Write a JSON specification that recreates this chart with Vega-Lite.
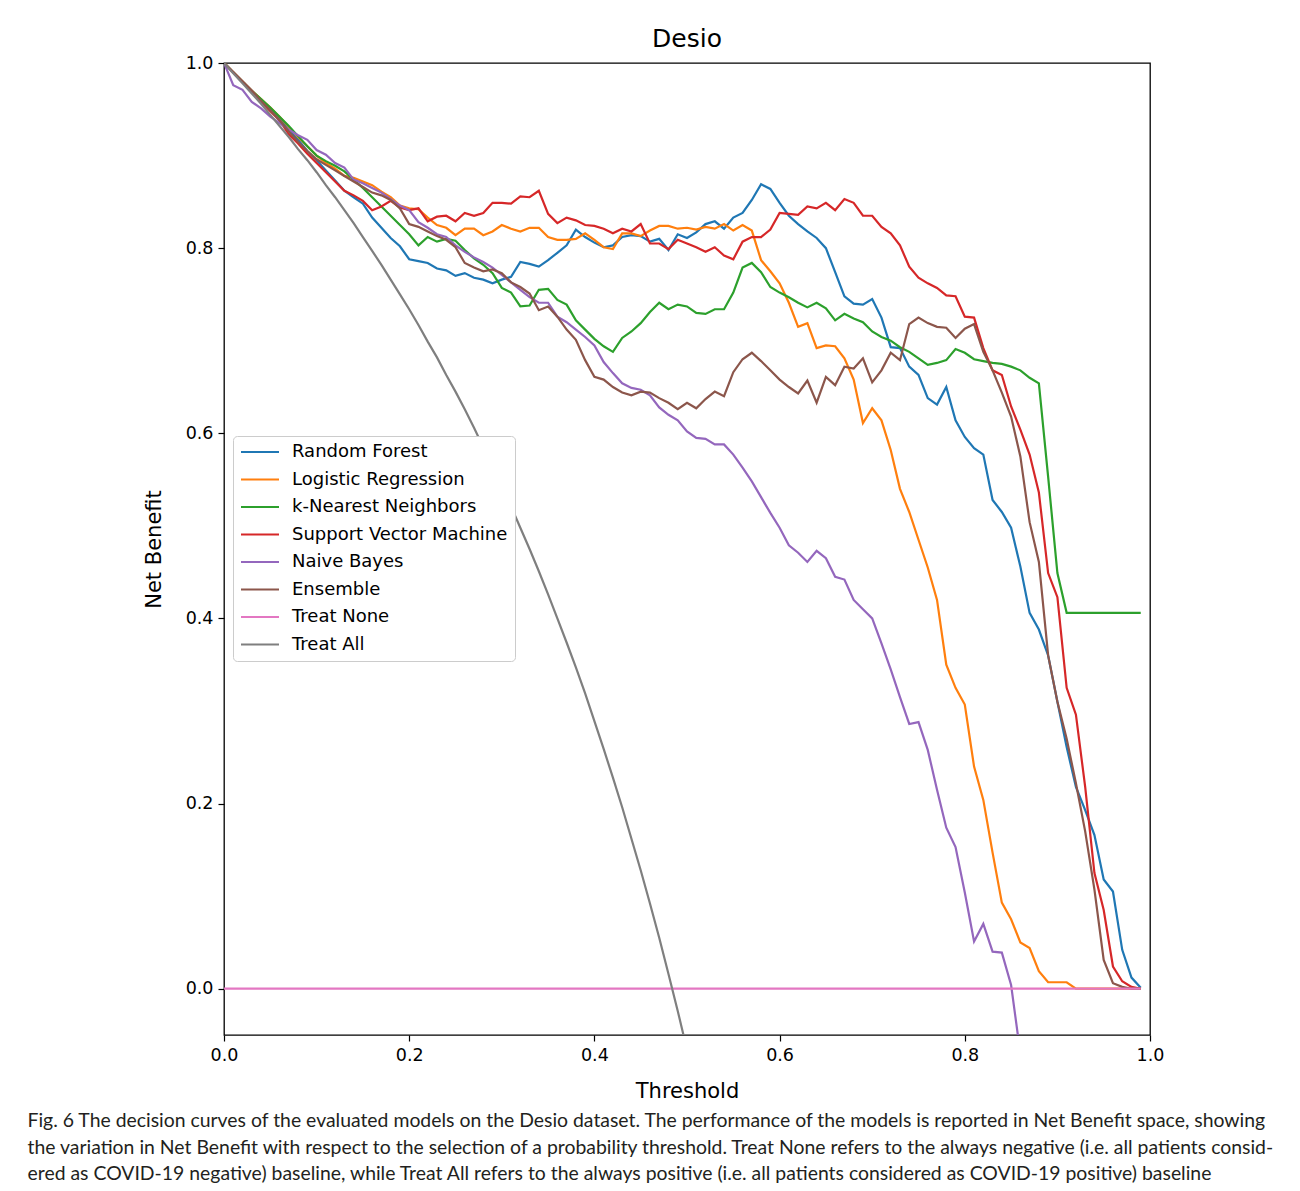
{
  "$schema": "https://vega.github.io/schema/vega-lite/v6.json",
  "background": "white",
  "padding": {"left": 27, "top": 26, "right": 20, "bottom": 10},
  "title": {
    "text": [
      "Fig. 6  The decision curves of the evaluated models on the Desio dataset. The performance of the models is reported in Net Benefit space, showing",
      "the variation in Net Benefit with respect to the selection of a probability threshold. Treat None refers to the always negative (i.e. all patients consid-",
      "ered as COVID-19 negative) baseline, while Treat All refers to the always positive (i.e. all patients considered as COVID-19 positive) baseline"
    ],
    "orient": "bottom", "anchor": "start", "frame": "bounds", "dx": -115, "offset": 10,
    "font": "Lato", "fontSize": 19.4, "fontWeight": "normal", "color": "#231f20", "lineHeight": 26.5
  },
  "vconcat": [
    {
      "width": 926,
      "height": 972,
      "title": {"text": "Desio", "font": "DejaVu Sans", "fontSize": 25, "fontWeight": "normal", "color": "black", "offset": 2, "anchor": "middle", "frame": "group"},
      "data": {"values": [
        {"t":0.00,"rf":1.0,"lr":1.0,"knn":1.0,"svm":1.0,"nb":1.0,"ens":1.0,"tn":0,"ta":1.0},
        {"t":0.01,"rf":0.99,"lr":0.99,"knn":0.99,"svm":0.99,"nb":0.976,"ens":0.99,"tn":0,"ta":0.989},
        {"t":0.02,"rf":0.98,"lr":0.98,"knn":0.98,"svm":0.98,"nb":0.971,"ens":0.98,"tn":0,"ta":0.978},
        {"t":0.03,"rf":0.97,"lr":0.97,"knn":0.97,"svm":0.97,"nb":0.958,"ens":0.97,"tn":0,"ta":0.967},
        {"t":0.04,"rf":0.96,"lr":0.961,"knn":0.961,"svm":0.958,"nb":0.951,"ens":0.959,"tn":0,"ta":0.956},
        {"t":0.05,"rf":0.95,"lr":0.952,"knn":0.952,"svm":0.948,"nb":0.942,"ens":0.949,"tn":0,"ta":0.944},
        {"t":0.06,"rf":0.94,"lr":0.942,"knn":0.942,"svm":0.938,"nb":0.935,"ens":0.938,"tn":0,"ta":0.932},
        {"t":0.07,"rf":0.928,"lr":0.931,"knn":0.932,"svm":0.923,"nb":0.928,"ens":0.926,"tn":0,"ta":0.92},
        {"t":0.08,"rf":0.917,"lr":0.92,"knn":0.921,"svm":0.913,"nb":0.922,"ens":0.915,"tn":0,"ta":0.907},
        {"t":0.09,"rf":0.905,"lr":0.91,"knn":0.91,"svm":0.902,"nb":0.917,"ens":0.905,"tn":0,"ta":0.895},
        {"t":0.10,"rf":0.895,"lr":0.9,"knn":0.9,"svm":0.892,"nb":0.906,"ens":0.896,"tn":0,"ta":0.882},
        {"t":0.11,"rf":0.884,"lr":0.892,"knn":0.894,"svm":0.882,"nb":0.901,"ens":0.89,"tn":0,"ta":0.868},
        {"t":0.12,"rf":0.873,"lr":0.886,"knn":0.889,"svm":0.872,"nb":0.892,"ens":0.884,"tn":0,"ta":0.855},
        {"t":0.13,"rf":0.862,"lr":0.878,"knn":0.883,"svm":0.862,"nb":0.887,"ens":0.878,"tn":0,"ta":0.841},
        {"t":0.14,"rf":0.855,"lr":0.876,"knn":0.874,"svm":0.857,"nb":0.874,"ens":0.872,"tn":0,"ta":0.827},
        {"t":0.15,"rf":0.848,"lr":0.872,"knn":0.865,"svm":0.851,"nb":0.87,"ens":0.866,"tn":0,"ta":0.812},
        {"t":0.16,"rf":0.833,"lr":0.868,"knn":0.855,"svm":0.841,"nb":0.865,"ens":0.86,"tn":0,"ta":0.797},
        {"t":0.17,"rf":0.822,"lr":0.861,"knn":0.845,"svm":0.845,"nb":0.86,"ens":0.857,"tn":0,"ta":0.782},
        {"t":0.18,"rf":0.811,"lr":0.855,"knn":0.835,"svm":0.851,"nb":0.853,"ens":0.852,"tn":0,"ta":0.766},
        {"t":0.19,"rf":0.802,"lr":0.846,"knn":0.825,"svm":0.844,"nb":0.846,"ens":0.843,"tn":0,"ta":0.75},
        {"t":0.20,"rf":0.788,"lr":0.843,"knn":0.815,"svm":0.841,"nb":0.841,"ens":0.826,"tn":0,"ta":0.734},
        {"t":0.21,"rf":0.786,"lr":0.842,"knn":0.803,"svm":0.843,"nb":0.828,"ens":0.823,"tn":0,"ta":0.717},
        {"t":0.22,"rf":0.784,"lr":0.833,"knn":0.812,"svm":0.829,"nb":0.822,"ens":0.818,"tn":0,"ta":0.699},
        {"t":0.23,"rf":0.778,"lr":0.825,"knn":0.807,"svm":0.834,"nb":0.815,"ens":0.813,"tn":0,"ta":0.682},
        {"t":0.24,"rf":0.776,"lr":0.822,"knn":0.81,"svm":0.835,"nb":0.812,"ens":0.809,"tn":0,"ta":0.663},
        {"t":0.25,"rf":0.77,"lr":0.814,"knn":0.808,"svm":0.829,"nb":0.803,"ens":0.801,"tn":0,"ta":0.645},
        {"t":0.26,"rf":0.773,"lr":0.821,"knn":0.798,"svm":0.838,"nb":0.796,"ens":0.784,"tn":0,"ta":0.626},
        {"t":0.27,"rf":0.768,"lr":0.821,"knn":0.789,"svm":0.835,"nb":0.79,"ens":0.779,"tn":0,"ta":0.606},
        {"t":0.28,"rf":0.766,"lr":0.814,"knn":0.782,"svm":0.838,"nb":0.785,"ens":0.775,"tn":0,"ta":0.585},
        {"t":0.29,"rf":0.762,"lr":0.818,"knn":0.773,"svm":0.849,"nb":0.779,"ens":0.777,"tn":0,"ta":0.565},
        {"t":0.30,"rf":0.766,"lr":0.825,"knn":0.757,"svm":0.849,"nb":0.771,"ens":0.773,"tn":0,"ta":0.543},
        {"t":0.31,"rf":0.769,"lr":0.821,"knn":0.752,"svm":0.848,"nb":0.763,"ens":0.763,"tn":0,"ta":0.521},
        {"t":0.32,"rf":0.785,"lr":0.818,"knn":0.737,"svm":0.856,"nb":0.755,"ens":0.758,"tn":0,"ta":0.498},
        {"t":0.33,"rf":0.783,"lr":0.822,"knn":0.738,"svm":0.855,"nb":0.747,"ens":0.751,"tn":0,"ta":0.475},
        {"t":0.34,"rf":0.78,"lr":0.822,"knn":0.755,"svm":0.862,"nb":0.741,"ens":0.733,"tn":0,"ta":0.451},
        {"t":0.35,"rf":0.787,"lr":0.812,"knn":0.756,"svm":0.837,"nb":0.741,"ens":0.737,"tn":0,"ta":0.426},
        {"t":0.36,"rf":0.795,"lr":0.809,"knn":0.744,"svm":0.827,"nb":0.726,"ens":0.726,"tn":0,"ta":0.4},
        {"t":0.37,"rf":0.803,"lr":0.809,"knn":0.739,"svm":0.833,"nb":0.72,"ens":0.712,"tn":0,"ta":0.374},
        {"t":0.38,"rf":0.82,"lr":0.81,"knn":0.722,"svm":0.83,"nb":0.712,"ens":0.701,"tn":0,"ta":0.347},
        {"t":0.39,"rf":0.812,"lr":0.816,"knn":0.712,"svm":0.825,"nb":0.704,"ens":0.679,"tn":0,"ta":0.319},
        {"t":0.40,"rf":0.806,"lr":0.809,"knn":0.702,"svm":0.824,"nb":0.695,"ens":0.661,"tn":0,"ta":0.289},
        {"t":0.41,"rf":0.801,"lr":0.801,"knn":0.694,"svm":0.821,"nb":0.677,"ens":0.658,"tn":0,"ta":0.259},
        {"t":0.42,"rf":0.803,"lr":0.799,"knn":0.688,"svm":0.816,"nb":0.665,"ens":0.65,"tn":0,"ta":0.228},
        {"t":0.43,"rf":0.812,"lr":0.816,"knn":0.703,"svm":0.821,"nb":0.654,"ens":0.644,"tn":0,"ta":0.196},
        {"t":0.44,"rf":0.814,"lr":0.816,"knn":0.71,"svm":0.818,"nb":0.649,"ens":0.641,"tn":0,"ta":0.162},
        {"t":0.45,"rf":0.813,"lr":0.813,"knn":0.719,"svm":0.826,"nb":0.647,"ens":0.645,"tn":0,"ta":0.128},
        {"t":0.46,"rf":0.807,"lr":0.819,"knn":0.731,"svm":0.805,"nb":0.641,"ens":0.644,"tn":0,"ta":0.092},
        {"t":0.47,"rf":0.81,"lr":0.824,"knn":0.741,"svm":0.805,"nb":0.628,"ens":0.638,"tn":0,"ta":0.055},
        {"t":0.48,"rf":0.798,"lr":0.824,"knn":0.734,"svm":0.799,"nb":0.62,"ens":0.633,"tn":0,"ta":0.016},
        {"t":0.49,"rf":0.815,"lr":0.821,"knn":0.739,"svm":0.809,"nb":0.614,"ens":0.626,"tn":0,"ta":-0.024},
        {"t":0.50,"rf":0.811,"lr":0.822,"knn":0.737,"svm":0.805,"nb":0.602,"ens":0.633,"tn":0,"ta":-0.066},
        {"t":0.51,"rf":0.817,"lr":0.82,"knn":0.73,"svm":0.801,"nb":0.595,"ens":0.627,"tn":0,"ta":-0.11},
        {"t":0.52,"rf":0.826,"lr":0.823,"knn":0.729,"svm":0.796,"nb":0.594,"ens":0.637,"tn":0},
        {"t":0.53,"rf":0.829,"lr":0.821,"knn":0.734,"svm":0.801,"nb":0.588,"ens":0.645,"tn":0},
        {"t":0.54,"rf":0.821,"lr":0.826,"knn":0.734,"svm":0.792,"nb":0.588,"ens":0.64,"tn":0},
        {"t":0.55,"rf":0.833,"lr":0.819,"knn":0.752,"svm":0.788,"nb":0.577,"ens":0.666,"tn":0},
        {"t":0.56,"rf":0.838,"lr":0.825,"knn":0.779,"svm":0.807,"nb":0.563,"ens":0.68,"tn":0},
        {"t":0.57,"rf":0.852,"lr":0.819,"knn":0.784,"svm":0.812,"nb":0.548,"ens":0.687,"tn":0},
        {"t":0.58,"rf":0.869,"lr":0.787,"knn":0.774,"svm":0.812,"nb":0.531,"ens":0.678,"tn":0},
        {"t":0.59,"rf":0.864,"lr":0.775,"knn":0.758,"svm":0.82,"nb":0.514,"ens":0.668,"tn":0},
        {"t":0.60,"rf":0.849,"lr":0.762,"knn":0.752,"svm":0.838,"nb":0.498,"ens":0.658,"tn":0},
        {"t":0.61,"rf":0.835,"lr":0.741,"knn":0.747,"svm":0.837,"nb":0.479,"ens":0.65,"tn":0},
        {"t":0.62,"rf":0.826,"lr":0.715,"knn":0.741,"svm":0.836,"nb":0.471,"ens":0.643,"tn":0},
        {"t":0.63,"rf":0.818,"lr":0.719,"knn":0.736,"svm":0.845,"nb":0.461,"ens":0.657,"tn":0},
        {"t":0.64,"rf":0.811,"lr":0.692,"knn":0.741,"svm":0.843,"nb":0.473,"ens":0.633,"tn":0},
        {"t":0.65,"rf":0.8,"lr":0.695,"knn":0.735,"svm":0.849,"nb":0.465,"ens":0.661,"tn":0},
        {"t":0.66,"rf":0.774,"lr":0.694,"knn":0.722,"svm":0.841,"nb":0.445,"ens":0.652,"tn":0},
        {"t":0.67,"rf":0.748,"lr":0.681,"knn":0.729,"svm":0.853,"nb":0.442,"ens":0.672,"tn":0},
        {"t":0.68,"rf":0.74,"lr":0.658,"knn":0.724,"svm":0.849,"nb":0.42,"ens":0.67,"tn":0},
        {"t":0.69,"rf":0.739,"lr":0.611,"knn":0.72,"svm":0.835,"nb":0.41,"ens":0.681,"tn":0},
        {"t":0.70,"rf":0.745,"lr":0.627,"knn":0.71,"svm":0.835,"nb":0.4,"ens":0.655,"tn":0},
        {"t":0.71,"rf":0.725,"lr":0.614,"knn":0.704,"svm":0.823,"nb":0.373,"ens":0.668,"tn":0},
        {"t":0.72,"rf":0.693,"lr":0.582,"knn":0.7,"svm":0.816,"nb":0.345,"ens":0.687,"tn":0},
        {"t":0.73,"rf":0.692,"lr":0.54,"knn":0.693,"svm":0.803,"nb":0.315,"ens":0.679,"tn":0},
        {"t":0.74,"rf":0.672,"lr":0.515,"knn":0.688,"svm":0.78,"nb":0.286,"ens":0.718,"tn":0},
        {"t":0.75,"rf":0.663,"lr":0.485,"knn":0.681,"svm":0.768,"nb":0.288,"ens":0.725,"tn":0},
        {"t":0.76,"rf":0.638,"lr":0.455,"knn":0.674,"svm":0.762,"nb":0.258,"ens":0.719,"tn":0},
        {"t":0.77,"rf":0.631,"lr":0.42,"knn":0.676,"svm":0.757,"nb":0.215,"ens":0.715,"tn":0},
        {"t":0.78,"rf":0.65,"lr":0.35,"knn":0.679,"svm":0.749,"nb":0.174,"ens":0.714,"tn":0},
        {"t":0.79,"rf":0.614,"lr":0.325,"knn":0.691,"svm":0.748,"nb":0.153,"ens":0.703,"tn":0},
        {"t":0.80,"rf":0.596,"lr":0.307,"knn":0.687,"svm":0.726,"nb":0.104,"ens":0.713,"tn":0},
        {"t":0.81,"rf":0.584,"lr":0.24,"knn":0.68,"svm":0.725,"nb":0.051,"ens":0.718,"tn":0},
        {"t":0.82,"rf":0.577,"lr":0.204,"knn":0.678,"svm":0.692,"nb":0.07,"ens":0.688,"tn":0},
        {"t":0.83,"rf":0.528,"lr":0.147,"knn":0.676,"svm":0.668,"nb":0.04,"ens":0.668,"tn":0},
        {"t":0.84,"rf":0.515,"lr":0.093,"knn":0.675,"svm":0.663,"nb":0.039,"ens":0.644,"tn":0},
        {"t":0.85,"rf":0.498,"lr":0.075,"knn":0.672,"svm":0.629,"nb":0.004,"ens":0.618,"tn":0},
        {"t":0.86,"rf":0.456,"lr":0.05,"knn":0.668,"svm":0.604,"nb":-0.07,"ens":0.575,"tn":0},
        {"t":0.87,"rf":0.406,"lr":0.044,"knn":0.66,"svm":0.577,"ens":0.504,"tn":0},
        {"t":0.88,"rf":0.388,"lr":0.019,"knn":0.654,"svm":0.536,"ens":0.461,"tn":0},
        {"t":0.89,"rf":0.36,"lr":0.007,"knn":0.553,"svm":0.449,"ens":0.36,"tn":0},
        {"t":0.90,"rf":0.31,"lr":0.007,"knn":0.449,"svm":0.423,"ens":0.31,"tn":0},
        {"t":0.91,"rf":0.261,"lr":0.007,"knn":0.406,"svm":0.325,"ens":0.27,"tn":0},
        {"t":0.92,"rf":0.218,"lr":0.0,"knn":0.406,"svm":0.296,"ens":0.222,"tn":0},
        {"t":0.93,"rf":0.193,"lr":0.0,"knn":0.406,"svm":0.218,"ens":0.17,"tn":0},
        {"t":0.94,"rf":0.166,"lr":0.0,"knn":0.406,"svm":0.125,"ens":0.107,"tn":0},
        {"t":0.95,"rf":0.118,"lr":0.0,"knn":0.406,"svm":0.085,"ens":0.031,"tn":0},
        {"t":0.96,"rf":0.105,"lr":0.0,"knn":0.406,"svm":0.024,"ens":0.006,"tn":0},
        {"t":0.97,"rf":0.042,"lr":0.0,"knn":0.406,"svm":0.008,"ens":0.002,"tn":0},
        {"t":0.98,"rf":0.012,"lr":0.0,"knn":0.406,"svm":0.002,"ens":0.0,"tn":0},
        {"t":0.99,"rf":0.001,"lr":0.0,"knn":0.406,"svm":0.0,"ens":0.0,"tn":0}
      ]},
      "transform": [
        {"fold": ["rf", "lr", "knn", "svm", "nb", "ens", "tn", "ta"], "as": ["model", "value"]},
        {"filter": "isValid(datum.value)"}
      ],
      "mark": {"type": "line", "strokeWidth": 2.2, "clip": true},
      "encoding": {
        "x": {
          "field": "t", "type": "quantitative",
          "scale": {"domain": [0, 1], "nice": false, "zero": false},
          "axis": {"values": [0, 0.2, 0.4, 0.6, 0.8, 1.0], "format": ".1f", "title": "Threshold", "labelFlush": false}
        },
        "y": {
          "field": "value", "type": "quantitative",
          "scale": {"domain": [-0.05, 1.0], "nice": false, "zero": false},
          "axis": {"values": [0, 0.2, 0.4, 0.6, 0.8, 1.0], "format": ".1f", "title": "Net Benefit", "labelFlush": false}
        },
        "color": {
          "field": "model", "type": "nominal",
          "scale": {
            "domain": ["rf", "lr", "knn", "svm", "nb", "ens", "tn", "ta"],
            "range": ["#1f77b4", "#ff7f0e", "#2ca02c", "#d62728", "#9467bd", "#8c564b", "#e377c2", "#7f7f7f"]
          },
          "legend": {
            "title": null,
            "orient": "none",
            "legendX": 9,
            "legendY": 373,
            "symbolType": "M-2.5,0L2.5,0",
            "symbolSize": 231,
            "symbolStrokeWidth": 2.2,
            "symbolOffset": 11,
            "labelFont": "DejaVu Sans",
            "labelFontSize": 18,
            "labelColor": "black",
            "labelLimit": 400,
            "labelOffset": 23,
            "rowPadding": 9.5,
            "padding": 7,
            "fillColor": "white",
            "strokeColor": "#cccccc",
            "cornerRadius": 4,
            "labelExpr": "datum.label == 'rf' ? 'Random Forest' : datum.label == 'lr' ? 'Logistic Regression' : datum.label == 'knn' ? 'k-Nearest Neighbors' : datum.label == 'svm' ? 'Support Vector Machine' : datum.label == 'nb' ? 'Naive Bayes' : datum.label == 'ens' ? 'Ensemble' : datum.label == 'tn' ? 'Treat None' : 'Treat All'"
          }
        }
      }
    }
  ],
  "config": {
    "font": "DejaVu Sans",
    "view": {"stroke": "black", "strokeWidth": 1.3},
    "axis": {
      "labelFont": "DejaVu Sans", "labelFontSize": 17.5, "labelColor": "black",
      "titleFont": "DejaVu Sans", "titleFontSize": 21, "titleFontWeight": "normal", "titleColor": "black",
      "tickColor": "black", "tickSize": 6, "tickWidth": 1.2, "domain": false, "grid": false, "labelPadding": 5
    },
    "axisY": {"titlePadding": 21},
    "axisX": {"titlePadding": 17}
  }
}
